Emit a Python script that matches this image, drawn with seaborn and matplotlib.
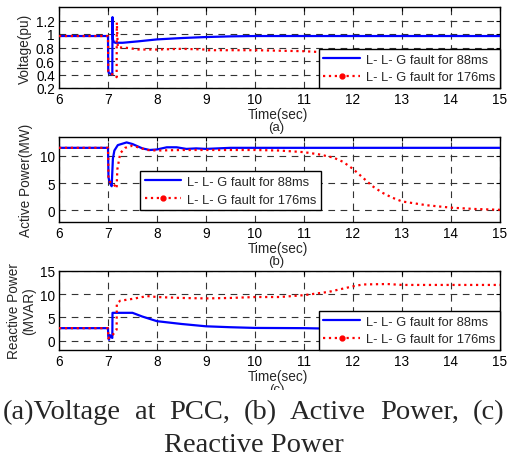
import numpy as np
import pandas as pd
import matplotlib
matplotlib.use("Agg")
import matplotlib.pyplot as plt
from matplotlib.lines import Line2D
from matplotlib.patches import Rectangle
import seaborn as sns

# ---------------- data ----------------
xticks = [6, 7, 8, 9, 10, 11, 12, 13, 14, 15]
series_names = ["L- L- G fault for 88ms", "L- L- G fault for 176ms"]

# (a) Voltage at PCC
v88_t = [6, 7.0, 7.005, 7.02, 7.085, 7.088, 7.092, 7.10, 7.12, 7.15, 7.3, 7.6, 8.0, 8.5, 9.0, 9.5, 10, 15]
v88_v = [0.97, 0.97, 0.45, 0.42, 0.40, 0.40, 1.25, 0.92, 0.88, 0.87, 0.87, 0.89, 0.92, 0.94, 0.955, 0.965, 0.97, 0.97]
v176_t = [6, 7.0, 7.005, 7.03, 7.1, 7.17, 7.176, 7.18, 7.2, 7.3, 7.45, 7.6, 8.0, 8.5, 9.0, 9.05, 10, 11, 11.4, 12, 13, 15]
v176_v = [0.97, 0.97, 0.45, 0.42, 0.40, 0.37, 0.36, 1.17, 0.80, 0.80, 0.79, 0.77, 0.77, 0.78, 0.77, 0.76, 0.76, 0.745, 0.73, 0.6, 0.45, 0.42]

# (b) Active power
p88_t = [6, 7.0, 7.01, 7.04, 7.075, 7.10, 7.13, 7.2, 7.38, 7.5, 7.7, 7.85, 8.0, 8.2, 8.4, 8.6, 8.8, 9.0, 9.5, 15]
p88_v = [11.5, 11.5, 6.0, 5.0, 4.4, 9.5, 11.0, 12.0, 12.5, 12.2, 11.4, 11.1, 11.2, 11.6, 11.6, 11.3, 11.4, 11.3, 11.5, 11.5]
p176_t = [6, 7.0, 7.01, 7.04, 7.1, 7.176, 7.19, 7.25, 7.35, 7.5, 7.65, 7.8, 8.0, 8.5, 9.0, 10, 10.5, 11, 11.3, 11.6,
          11.8, 12.0, 12.2, 12.4, 12.6, 12.8, 13.0, 13.5, 14, 14.5, 15]
p176_v = [11.5, 11.5, 6.0, 5.2, 5.0, 4.0, 7.5, 10.5, 11.5, 11.9, 11.5, 11.1, 11.0, 11.1, 11.1, 11.1, 11.0, 10.7, 10.3, 9.7,
          8.9, 7.6, 6.0, 4.4, 3.2, 2.3, 1.6, 0.9, 0.45, 0.2, 0.05]

# (c) Reactive power
q88_t = [6, 7.0, 7.005, 7.02, 7.04, 7.06, 7.088, 7.092, 7.1, 7.5, 7.7, 8.0, 8.5, 9.0, 9.5, 10, 11, 11.5, 15]
q88_v = [2.7, 2.7, 1.0, 0.2, 1.2, 0.8, 0.6, 6.0, 6.0, 6.0, 5.2, 4.2, 3.6, 3.1, 2.9, 2.75, 2.7, 2.6, 2.6]
q176_t = [6, 7.0, 7.005, 7.03, 7.1, 7.15, 7.176, 7.18, 7.25, 7.5, 7.7, 7.8, 8.0, 8.5, 9.0, 9.5, 10, 10.5, 11, 11.5,
          12, 12.2, 12.7, 13, 15]
q176_v = [2.7, 2.7, 0.5, 0.8, 1.3, 2.0, 2.4, 8.0, 8.6, 9.0, 9.4, 9.6, 9.4, 9.2, 9.1, 9.2, 9.4, 9.4, 9.8, 10.5,
          11.7, 12.1, 12.2, 12.0, 12.0]

caption_line1 = "(a)Voltage at PCC, (b) Active Power, (c)"
caption_line2 = "Reactive Power"

panels = [
    dict(t88=v88_t, y88=v88_v, t176=v176_t, y176=v176_v, ylabel="Voltage(pu)",
         ylim=(0.2, 1.4), yticks=[0.2, 0.4, 0.6, 0.8, 1.0, 1.2],
         yticklabels=["0.2", "0.4", "0.6", "0.8", "1", "1.2"], tag="(a)"),
    dict(t88=p88_t, y88=p88_v, t176=p176_t, y176=p176_v, ylabel="Active Power(MW)",
         ylim=(-2.2, 13.5), yticks=[0, 5, 10], yticklabels=["0", "5", "10"], tag="(b)"),
    dict(t88=q88_t, y88=q88_v, t176=q176_t, y176=q176_v, ylabel="Reactive Power\n(MVAR)",
         ylim=(-2, 15), yticks=[0, 5, 10, 15], yticklabels=["0", "5", "10", "15"], tag="(c)"),
]

# ---------------- figure ----------------
sns.set_style("white")
plt.rcParams["font.family"] = ["Liberation Sans", "DejaVu Sans"]

W, H = 508, 460
PT = 0.72  # points per pixel at dpi 100
fig = plt.figure(figsize=(W / 100, H / 100), dpi=100)

def box(l, t, r, b):
    return [l / W, 1 - b / H, (r - l) / W, (b - t) / H]

rects = [box(59, 8, 500, 89), box(59, 138, 500, 223), box(59, 272, 500, 351)]
ylab_x = [-0.062, -0.059, -0.052]
leg_locs = [dict(loc="lower right", bbox_to_anchor=(1.0, 0.0)),
            dict(loc="lower left", bbox_to_anchor=(0.184, 0.14)),
            dict(loc="lower right", bbox_to_anchor=(1.0, 0.0))]

handles = [Line2D([], [], color="blue", lw=1.6, ls="-"),
           Line2D([], [], color="red", lw=1.6, ls=":", marker="o", markersize=3.5)]

for rect, p, legkw, ylx in zip(rects, panels, leg_locs, ylab_x):
    ax = fig.add_axes(rect)
    df88 = pd.DataFrame({"t": p["t88"], "y": p["y88"]})
    df176 = pd.DataFrame({"t": p["t176"], "y": p["y176"]})
    sns.lineplot(data=df88, x="t", y="y", ax=ax, color="blue", lw=1.6,
                 estimator=None, sort=False, zorder=3)
    sns.lineplot(data=df176, x="t", y="y", ax=ax, color="red", lw=1.6, ls=":",
                 estimator=None, sort=False, zorder=4)
    ax.set_xlim(6, 15)
    ax.set_ylim(*p["ylim"])
    ax.set_xticks(xticks)
    ax.set_xticklabels([str(x) for x in xticks])
    ax.set_yticks(p["yticks"])
    ax.set_yticklabels(p["yticklabels"])
    ax.tick_params(direction="in", length=3, width=0.8, labelsize=9.8, pad=3,
                   top=True, right=True, colors="black")
    for s in ax.spines.values():
        s.set_visible(True)
        s.set_color("black")
        s.set_linewidth(1.0)
    ax.grid(True, color="0.2", ls=(0, (6, 5)), lw=0.8)
    ax.set_xlabel("")
    ax.annotate("Time(sec)", xy=(0.5, 0), xycoords="axes fraction",
                xytext=(-2 * PT, -26 * PT), textcoords="offset points",
                ha="center", va="center", fontsize=9.8)
    ax.annotate(p["tag"], xy=(0.5, 0), xycoords="axes fraction",
                xytext=(-3 * PT, -39 * PT), textcoords="offset points",
                ha="center", va="center", fontsize=9.5)
    ax.set_ylabel(p["ylabel"], fontsize=9.8, linespacing=1.1)
    ax.yaxis.set_label_coords(ylx, 0.5)
    leg = ax.legend(handles, series_names, fontsize=9.3, frameon=True, fancybox=False,
                    edgecolor="black", framealpha=1, borderaxespad=0, numpoints=1,
                    handlelength=2.8, borderpad=0.35, labelspacing=0.45, handletextpad=0.5,
                    **legkw)
    leg.get_frame().set_linewidth(1.0)
    leg.set_zorder(10)

fig.add_artist(Rectangle((0, 0), 1, 1 - 391 / H, transform=fig.transFigure,
                         facecolor="white", edgecolor="none", zorder=5))

# caption: justified first line, centred last line (as in the source document)
cap_font = dict(fontsize=20.5, family=["Liberation Serif", "DejaVu Serif"], zorder=6)
renderer = fig.canvas.get_renderer()
words = caption_line1.split(" ")
tmp = [fig.text(0, 0, w, **cap_font) for w in words]
widths = [t.get_window_extent(renderer).width for t in tmp]
for t in tmp:
    t.remove()
left, right = 3, 504
gap = (right - left - sum(widths)) / (len(words) - 1)
x = left
for w, wd in zip(words, widths):
    fig.text(x / W, 1 - 419 / H, w, ha="left", va="baseline", **cap_font)
    x += wd + gap
fig.text(254 / W, 1 - 452 / H, caption_line2, ha="center", va="baseline", **cap_font)

fig.savefig("out.png", dpi=100)
